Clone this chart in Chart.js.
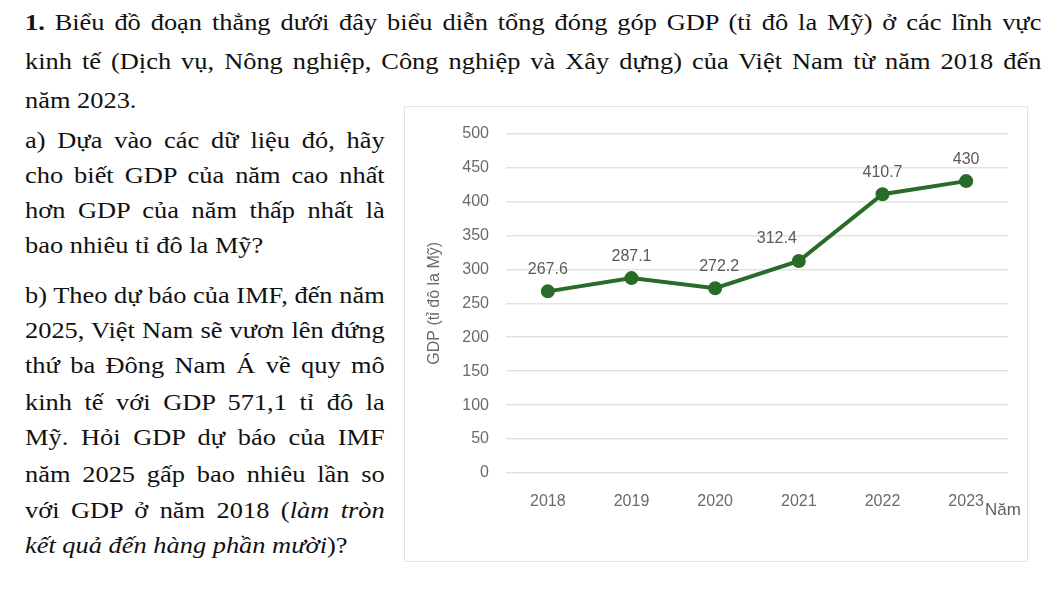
<!DOCTYPE html>
<html lang="vi">
<head>
<meta charset="utf-8">
<script src="https://cdn.jsdelivr.net/npm/chart.js@4.4.1/dist/chart.umd.min.js"></script>
<style>
    html, body { margin: 0; padding: 0; background: #fff; }
    body { width: 1058px; height: 599px; position: relative; overflow: hidden;
           font-family: "Liberation Serif", "Times New Roman", serif; color: #111; }
    .dong { position: absolute; font-size: 24px; line-height: 25px; white-space: nowrap;
            text-align: justify; text-align-last: justify;
            transform: scaleX(1.1); transform-origin: 0 0; }
    .rong { left: 25px; width: 924px; }
    .hep { left: 25px; width: 327px; }
    .le { text-align-last: left; }
    #khung { position: absolute; left: 404px; top: 106px; width: 622px; height: 454px;
             border: 1px solid #e4e4e4; background: #fff; }
</style>
</head>
<body>
<div class="dong rong" style="top:10px"><b>1.</b> Biểu đồ đoạn thẳng dưới đây biểu diễn tổng đóng góp GDP (tỉ đô la Mỹ) ở các lĩnh vực</div>
<div class="dong rong" style="top:49px">kinh tế (Dịch vụ, Nông nghiệp, Công nghiệp và Xây dựng) của Việt Nam từ năm 2018 đến</div>
<div class="dong rong le" style="top:88px">năm 2023.</div>

<div class="dong hep" style="top:128px">a) Dựa vào các dữ liệu đó, hãy</div>
<div class="dong hep" style="top:163px">cho biết GDP của năm cao nhất</div>
<div class="dong hep" style="top:198px">hơn GDP của năm thấp nhất là</div>
<div class="dong hep le" style="top:233px">bao nhiêu tỉ đô la Mỹ?</div>
<div class="dong hep" style="top:283px">b) Theo dự báo của IMF, đến năm</div>
<div class="dong hep" style="top:318px">2025, Việt Nam sẽ vươn lên đứng</div>
<div class="dong hep" style="top:353px">thứ ba Đông Nam Á về quy mô</div>
<div class="dong hep" style="top:390px">kinh tế với GDP 571,1 tỉ đô la</div>
<div class="dong hep" style="top:425px">Mỹ. Hỏi GDP dự báo của IMF</div>
<div class="dong hep" style="top:462px">năm 2025 gấp bao nhiêu lần so</div>
<div class="dong hep" style="top:498px">với GDP ở năm 2018 (<i>làm tròn</i></div>
<div class="dong hep le" style="top:533px"><i>kết quả đến hàng phần mười</i>)?</div>

<div id="khung"><canvas id="bieuDo" width="622" height="454"></canvas></div>

<script>
// Dữ liệu GDP (tỉ đô la Mỹ)
const nam = ['2018', '2019', '2020', '2021', '2022', '2023'];
const gdp = [267.6, 287.1, 272.2, 312.4, 410.7, 430];
const nhanGdp = ['267.6', '287.1', '272.2', '312.4', '410.7', '430'];

const MAU_DUONG = '#286c28';
const MAU_CHU = '#6a6a6a';
const FONT_CHU = '"Liberation Sans", Arial, sans-serif';
const lechNhanX = [0, 0, 4, -22, 0, 0];

// Vẽ nhãn giá trị phía trên mỗi điểm
const nhanDiem = {
    id: 'nhanDiem',
    afterDatasetsDraw(chart) {
        const ctx = chart.ctx;
        const meta = chart.getDatasetMeta(0);
        ctx.save();
        ctx.font = '16px ' + FONT_CHU;
        ctx.fillStyle = '#5a5a5a';
        ctx.textAlign = 'center';
        ctx.textBaseline = 'bottom';
        meta.data.forEach((diem, i) => {
            ctx.fillText(nhanGdp[i], diem.x + lechNhanX[i], diem.y - 14);
        });
        ctx.restore();
    }
};

// Chữ "Năm" ở cuối trục hoành
const tenTrucX = {
    id: 'tenTrucX',
    afterDraw(chart) {
        const ctx = chart.ctx;
        const { right, bottom } = chart.chartArea;
        ctx.save();
        ctx.font = '17px ' + FONT_CHU;
        ctx.fillStyle = '#5f5f5f';
        ctx.textAlign = 'center';
        ctx.textBaseline = 'middle';
        ctx.fillText('Năm', right - 5, bottom + 37);
        ctx.restore();
    }
};

new Chart(document.getElementById('bieuDo').getContext('2d'), {
    type: 'line',
    data: {
        labels: nam,
        datasets: [{
            data: gdp,
            borderColor: MAU_DUONG,
            backgroundColor: MAU_DUONG,
            borderWidth: 4,
            pointRadius: 5,
            pointHoverRadius: 5,
            pointBackgroundColor: MAU_DUONG,
            pointBorderColor: MAU_DUONG,
            tension: 0
        }]
    },
    options: {
        responsive: false,
        animation: false,
        layout: {
            padding: { top: 22, right: 19, left: 0, bottom: 0 }
        },
        plugins: {
            legend: { display: false },
            tooltip: { enabled: false }
        },
        scales: {
            x: {
                offset: true,
                grid: { display: false },
                border: { display: false },
                ticks: {
                    color: MAU_CHU,
                    padding: 11,
                    font: { family: FONT_CHU, size: 16 }
                },
                afterFit: (s) => { s.height = 88; }
            },
            y: {
                min: 0,
                max: 500,
                ticks: {
                    stepSize: 50,
                    color: MAU_CHU,
                    padding: 17,
                    font: { family: FONT_CHU, size: 16 }
                },
                grid: {
                    color: '#e3e3e3',
                    lineWidth: 1.5,
                    drawTicks: false
                },
                border: { display: false },
                title: {
                    display: true,
                    text: 'GDP (tỉ đô la Mỹ)',
                    color: MAU_CHU,
                    padding: { top: 20, bottom: 0 },
                    font: { family: FONT_CHU, size: 16 }
                },
                afterFit: (s) => { s.width = 101; }
            }
        }
    },
    plugins: [nhanDiem, tenTrucX]
});
</script>
</body>
</html>
